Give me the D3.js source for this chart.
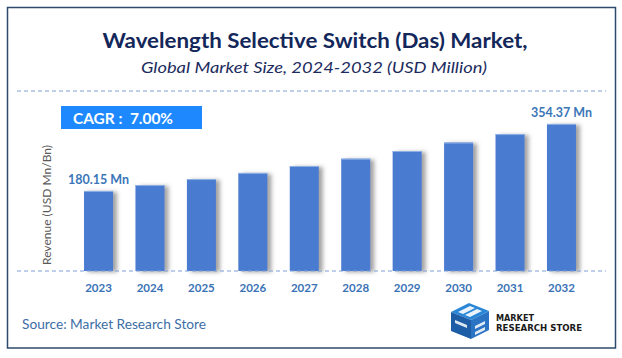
<!DOCTYPE html>
<html>
<head>
<meta charset="utf-8">
<script src="https://cdn.jsdelivr.net/npm/d3@7"></script>
<style>
  html, body { margin: 0; padding: 0; background: #ffffff; }
  svg { display: block; }
</style>
</head>
<body>
<script>
// ---- data ----
const years = ["2023","2024","2025","2026","2027","2028","2029","2030","2031","2032"];
const revenue = [180.15, 195.5, 211, 227, 245, 264, 284, 306, 328, 354.37];
const valueLabels = ["180.15 Mn", "", "", "", "", "", "", "", "", "354.37 Mn"];
const titleText = "Wavelength Selective Switch (Das) Market,";
const subtitleText = "Global Market Size, 2024-2032 (USD Million)";
const cagrText = "CAGR :  7.00%";
const yAxisLabel = "Revenue (USD Mn/Bn)";
const sourceText = "Source: Market Research Store";

const W = 622, H = 358;
const svg = d3.select("body").append("svg").attr("width", W).attr("height", H);
const defs = svg.append("defs");

const shadow = defs.append("filter").attr("id", "barShadow")
  .attr("x", "-20%").attr("y", "-10%").attr("width", "160%").attr("height", "130%");
shadow.append("feDropShadow").attr("dx", 4).attr("dy", 1).attr("stdDeviation", 2)
  .attr("flood-color", "#555").attr("flood-opacity", 0.55);

// outer frame
svg.append("rect").attr("x", 7.5).attr("y", 7.5).attr("width", 608).attr("height", 340.5)
  .attr("fill", "#fff").attr("stroke", "#2c4a6b").attr("stroke-width", 1.5);

// title
svg.append("text").attr("x", 315).attr("y", 48).attr("text-anchor", "middle")
  .attr("font-family", "Lato, 'Open Sans', sans-serif").attr("font-weight", 700)
  .attr("font-size", 20).attr("fill", "#13275a")
  .attr("textLength", 425).attr("lengthAdjust", "spacingAndGlyphs")
  .text(titleText);
svg.append("text").attr("x", 314).attr("y", 73).attr("text-anchor", "middle")
  .attr("font-family", "Lato, 'Open Sans', sans-serif").attr("font-style", "italic")
  .attr("font-size", 16).attr("fill", "#1c2b5e")
  .attr("textLength", 346).attr("lengthAdjust", "spacingAndGlyphs")
  .text(subtitleText);

// dashed separators
const dashColor = "#7f9fd6";
svg.append("line").attr("x1", 17).attr("x2", 606).attr("y1", 91).attr("y2", 91)
  .attr("stroke", dashColor).attr("stroke-width", 1).attr("stroke-dasharray", "4,3");

// CAGR box
svg.append("rect").attr("x", 61).attr("y", 106).attr("width", 141).attr("height", 23)
  .attr("fill", "#1e88ff");
svg.append("text").attr("x", 73).attr("y", 124)
  .attr("font-family", "Lato, 'Open Sans', sans-serif").attr("font-weight", 700)
  .attr("font-size", 16).attr("fill", "#ffffff")
  .attr("textLength", 100).attr("lengthAdjust", "spacingAndGlyphs")
  .attr("xml:space", "preserve")
  .text(cagrText);

// scales
const x = d3.scaleBand().domain(years).range([61.6, 598.4]).paddingInner(0.436).paddingOuter(0.436);
const y = d3.scaleLinear().domain([-28, 400]).range([271, 106.4]);

// bars
const g = svg.append("g");
g.selectAll("rect.bar").data(years).join("rect").attr("class", "bar")
  .attr("x", d => x(d))
  .attr("y", (d, i) => y(revenue[i]))
  .attr("width", x.bandwidth())
  .attr("height", (d, i) => y.range()[0] - y(revenue[i]))
  .attr("fill", "#4a7bd1")
  .attr("filter", "url(#barShadow)");
g.selectAll("line.hl").data(years).join("line").attr("class", "hl")
  .attr("x1", d => x(d)).attr("x2", d => x(d) + x.bandwidth())
  .attr("y1", (d, i) => y(revenue[i]) + 0.5).attr("y2", (d, i) => y(revenue[i]) + 0.5)
  .attr("stroke", "#8fb0e6").attr("stroke-width", 1);

// baseline dashed
svg.append("line").attr("x1", 17).attr("x2", 606).attr("y1", 271).attr("y2", 271)
  .attr("stroke", dashColor).attr("stroke-width", 1).attr("stroke-dasharray", "4,3");

// value labels
g.selectAll("text.val").data(years).join("text").attr("class", "val")
  .attr("x", d => x(d) + x.bandwidth() / 2)
  .attr("y", (d, i) => y(revenue[i]) - 7)
  .attr("text-anchor", "middle")
  .attr("font-family", "Lato, 'Open Sans', sans-serif").attr("font-weight", 700)
  .attr("font-size", 12.5).attr("fill", "#3a76b8")
  .text((d, i) => valueLabels[i]);

// x axis
const xAxis = svg.append("g").attr("transform", "translate(0,271)")
  .call(d3.axisBottom(x).tickSize(0).tickPadding(13));
xAxis.select(".domain").remove();
xAxis.selectAll("text")
  .attr("font-family", "Lato, 'Open Sans', sans-serif").attr("font-weight", 700)
  .attr("font-size", 11.5).attr("fill", "#3a72b6");

// y label
svg.append("text").attr("transform", "translate(51,205) rotate(-90)")
  .attr("text-anchor", "middle")
  .attr("font-family", "Lato, 'Open Sans', sans-serif")
  .attr("font-size", 12).attr("fill", "#595959")
  .attr("textLength", 120).attr("lengthAdjust", "spacingAndGlyphs")
  .text(yAxisLabel);

// source
svg.append("text").attr("x", 22).attr("y", 329)
  .attr("font-family", "Lato, 'Open Sans', sans-serif")
  .attr("font-size", 13.5).attr("fill", "#3c6ea6")
  .attr("textLength", 184).attr("lengthAdjust", "spacingAndGlyphs")
  .text(sourceText);

// logo
const logo = svg.append("g").attr("transform", "translate(449,303)");
// cube top face
logo.append("path").attr("d", "M2,9 L20,0 L40,8 L22,17 Z").attr("fill", "#2a86d6");
// left face
logo.append("path").attr("d", "M2,9 L22,17 L22,36 L2,28 Z").attr("fill", "#1d5da6");
// right face
logo.append("path").attr("d", "M22,17 L40,8 L40,27 L22,36 Z").attr("fill", "#2b74c4");
// white stripes
logo.append("path").attr("d", "M9,9 L21,3 L26,5 L14,11 Z").attr("fill", "#fff").attr("opacity", 0.9);
logo.append("path").attr("d", "M16,12 L28,6 L33,8 L21,14 Z").attr("fill", "#fff").attr("opacity", 0.9);
logo.append("path").attr("d", "M6,17 L18,22 L18,25 L6,20 Z").attr("fill", "#fff").attr("opacity", 0.85);
logo.append("path").attr("d", "M26,23 L36,18 L36,21 L26,26 Z").attr("fill", "#fff").attr("opacity", 0.85);
logo.append("path").attr("d", "M26,29 L36,24 L36,27 L26,32 Z").attr("fill", "#fff").attr("opacity", 0.85);
logo.append("text").attr("x", 47).attr("y", 17.5)
  .attr("font-family", "'Liberation Sans Narrow', 'DejaVu Sans Condensed', 'Roboto', sans-serif")
  .attr("font-weight", 700).attr("font-size", 9.5).attr("fill", "#1a1a1a")
  .attr("textLength", 38).attr("lengthAdjust", "spacingAndGlyphs")
  .text("MARKET");
logo.append("text").attr("x", 47).attr("y", 27.5)
  .attr("font-family", "'Liberation Sans Narrow', 'DejaVu Sans Condensed', 'Roboto', sans-serif")
  .attr("font-weight", 700).attr("font-size", 9.5).attr("fill", "#1a1a1a")
  .attr("textLength", 86).attr("lengthAdjust", "spacingAndGlyphs")
  .text("RESEARCH STORE");
</script>
</body>
</html>
